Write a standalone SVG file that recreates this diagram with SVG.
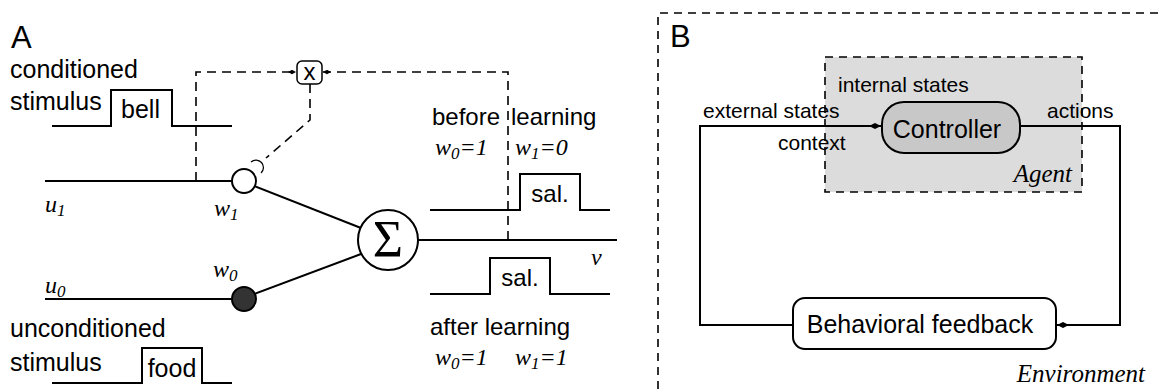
<svg xmlns="http://www.w3.org/2000/svg" width="1158" height="389" viewBox="0 0 1158 389">
<style>
.sans{font-family:"Liberation Sans",Arial,sans-serif;fill:#000}
.ital{font-family:"Liberation Serif","Times New Roman",serif;font-style:italic;fill:#000}
.ln{stroke:#000;stroke-width:2;fill:none}
.dash{stroke:#000;stroke-width:1.6;fill:none;stroke-dasharray:9 6}
.bdash{stroke:#000;stroke-width:1.6;fill:none;stroke-dasharray:8 6}
</style>
<defs>
<marker id="kite" markerWidth="12" markerHeight="7" refX="12" refY="3.5" orient="auto" markerUnits="userSpaceOnUse">
<path d="M0,3.5 L6,0.6 L12,3.5 L6,6.4 Z" fill="#000"/>
</marker>
<marker id="kiteS" markerWidth="8" markerHeight="5" refX="8" refY="2.5" orient="auto" markerUnits="userSpaceOnUse">
<path d="M0,2.5 L4,0.3 L8,2.5 L4,4.7 Z" fill="#000"/>
</marker>
</defs>
<rect width="1158" height="389" fill="#fff"/>

<!-- Panel A -->
<g id="panelA-labels">
<text class="sans" x="11" y="48" font-size="31">A</text>
<text class="sans" x="10" y="78" font-size="25">conditioned</text>
<text class="sans" x="10" y="110" font-size="25">stimulus</text>
<text class="sans" x="10" y="337" font-size="25">unconditioned</text>
<text class="sans" x="10" y="371" font-size="25">stimulus</text>
<text class="ital" x="45" y="212" font-size="24">u<tspan font-size="17" dy="4">1</tspan></text>
<text class="ital" x="45" y="293" font-size="24">u<tspan font-size="17" dy="4">0</tspan></text>
<text class="ital" x="214" y="216" font-size="24">w<tspan font-size="17" dy="4">1</tspan></text>
<text class="ital" x="213" y="277" font-size="24">w<tspan font-size="17" dy="4">0</tspan></text>
<text class="ital" x="591" y="265" font-size="24">v</text>
<text class="sans" x="432" y="125" font-size="24">before</text>
<text class="sans" x="511" y="125" font-size="24">learning</text>
<text class="ital" x="435" y="155" font-size="24">w<tspan font-size="17" dy="4">0</tspan><tspan dy="-4">=1</tspan></text>
<text class="ital" x="515" y="155" font-size="24">w<tspan font-size="17" dy="4">1</tspan><tspan dy="-4">=0</tspan></text>
<text class="sans" x="430" y="335" font-size="24">after learning</text>
<text class="ital" x="435" y="365" font-size="24">w<tspan font-size="17" dy="4">0</tspan><tspan dy="-4">=1</tspan></text>
<text class="ital" x="515" y="365" font-size="24">w<tspan font-size="17" dy="4">1</tspan><tspan dy="-4">=1</tspan></text>
</g>

<g id="bell-signal">
<path class="ln" d="M52,126 H111 V90 H172 V126 H232"/>
<text class="sans" x="140.5" y="118" font-size="25" text-anchor="middle">bell</text>
</g>
<g id="food-signal">
<path class="ln" d="M52,383 H142 V348 H202 V383 H232"/>
<text class="sans" x="172" y="377" font-size="25" text-anchor="middle">food</text>
</g>
<g id="sal-before">
<path class="ln" d="M430,210 H520 V174 H580 V210 H610"/>
<text class="sans" x="550" y="202" font-size="24" text-anchor="middle">sal.</text>
</g>
<g id="sal-after">
<path class="ln" d="M430,294 H490 V258 H550 V294 H610"/>
<text class="sans" x="520" y="286" font-size="24" text-anchor="middle">sal.</text>
</g>

<g id="connectors-A">
<line class="ln" x1="45" y1="181" x2="232" y2="181"/>
<line class="ln" x1="45" y1="299" x2="232" y2="299"/>
<line class="ln" x1="254" y1="186" x2="361" y2="228"/>
<line class="ln" x1="254" y1="294" x2="361" y2="254"/>
<line class="ln" x1="418" y1="240" x2="617" y2="240"/>
<path class="dash" d="M196,181 V72 H296" marker-end="url(#kiteS)"/>
<path class="dash" d="M508,240 V72 H323" marker-end="url(#kiteS)"/>
<path class="dash" d="M310,84 V120 L266,158"/>
<path d="M251,162 A7,7 0 0 1 261,173" stroke="#000" stroke-width="1.2" fill="none"/>
</g>

<g id="mult-node">
<rect x="297" y="61" width="25" height="23" rx="5" fill="#fff" stroke="#000" stroke-width="1.5"/>
<text class="sans" x="309.5" y="80" font-size="24" text-anchor="middle">x</text>
</g>
<g id="w1-node">
<circle cx="244" cy="181" r="12" fill="#fff" stroke="#000" stroke-width="2"/>
</g>
<g id="w0-node">
<circle cx="244" cy="299" r="12" fill="#333" stroke="#000" stroke-width="2"/>
</g>
<g id="sum-node">
<circle cx="388" cy="240" r="30" fill="#fff" stroke="#000" stroke-width="2"/>
<text x="388" y="257" font-size="52" text-anchor="middle" font-family="Liberation Serif,serif">Σ</text>
</g>

<!-- Panel B -->
<g id="environment">
<path class="bdash" d="M658,389 V13 H1158"/>
<text class="sans" x="670" y="47" font-size="31">B</text>
<text class="ital" x="1145" y="382" font-size="25" text-anchor="end">Environment</text>
</g>
<g id="agent">
<rect x="825" y="57" width="257" height="135" fill="#dcdcdc" stroke="#000" stroke-width="1.6" stroke-dasharray="8 6"/>
<text class="ital" x="1072" y="182" font-size="25" text-anchor="end">Agent</text>
</g>
<g id="connectors-B">
<path class="ln" d="M793,325 H700 V126 H881" marker-end="url(#kite)"/>
<path class="ln" d="M1020,126 H1120 V325 H1057" marker-end="url(#kite)"/>
</g>
<g id="labels-B">
<text class="sans" x="838" y="92" font-size="21">internal states</text>
<text class="sans" x="703" y="118" font-size="21">external states</text>
<text class="sans" x="778" y="150" font-size="21">context</text>
<text class="sans" x="1047" y="118" font-size="21">actions</text>
</g>
<g id="controller">
<rect x="882" y="102" width="138" height="51" rx="22" fill="#c8c8c8" stroke="#000" stroke-width="2"/>
<text class="sans" x="947" y="138" font-size="25" text-anchor="middle">Controller</text>
</g>
<g id="behavioral-feedback">
<rect x="793" y="298" width="263" height="51" rx="12" fill="#fff" stroke="#000" stroke-width="2"/>
<text class="sans" x="920" y="333" font-size="25" text-anchor="middle">Behavioral feedback</text>
</g>
</svg>
